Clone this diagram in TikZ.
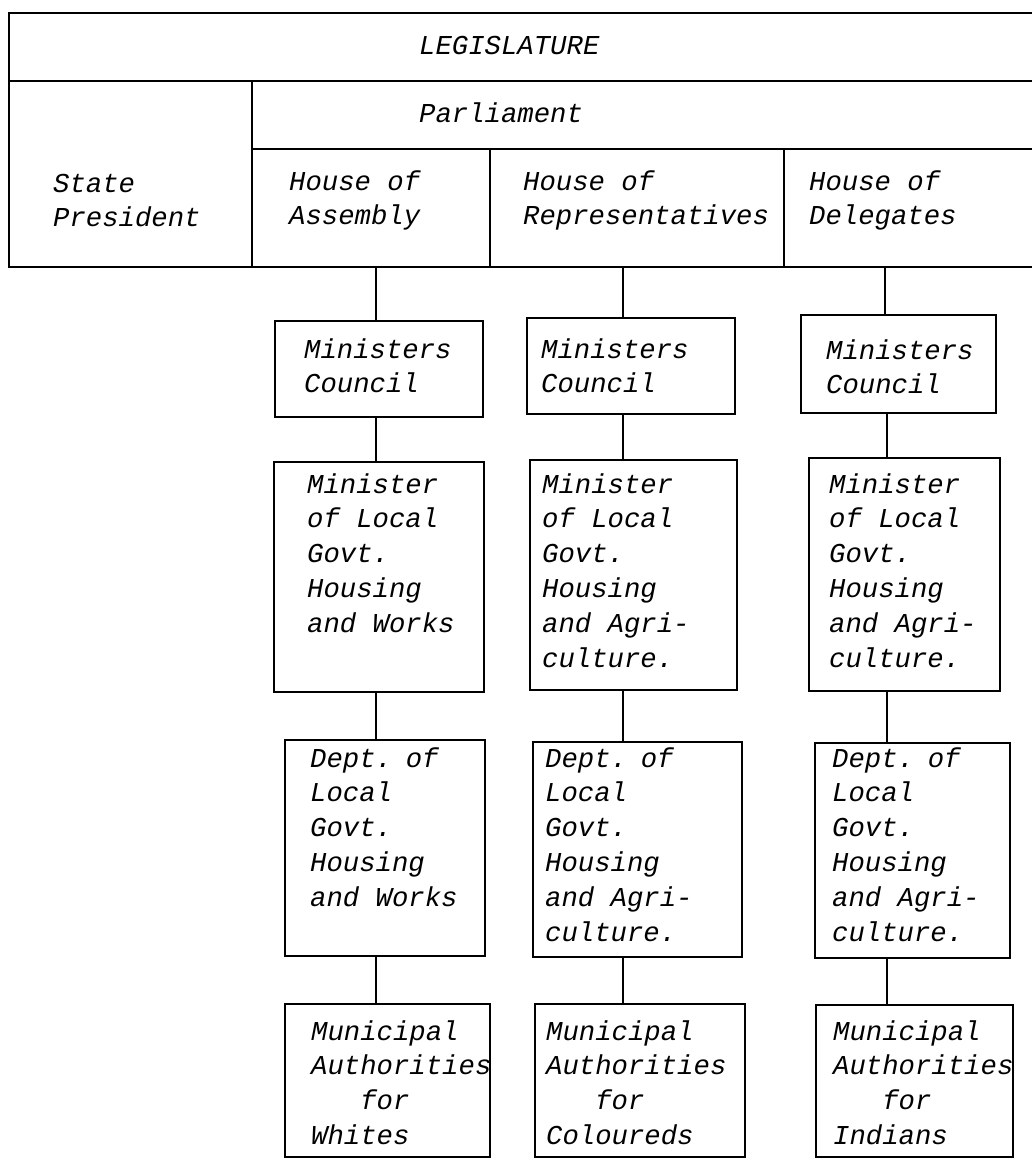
\documentclass[tikz,border=0pt]{standalone}
\usepackage{fontspec}
\newfontfamily\typewriter{Liberation Mono}[WordSpace={1,0,0}]
% framed box from its top-left corner (x1,y1) to its bottom-right corner (x2,y2)
\newcommand{\orgbox}[5]{%
  \node[box, minimum width={#4-#2}, minimum height={#5-#3}] (#1) at (#2,#3) {};}
\begin{document}
\begin{tikzpicture}[x=1pt, y=-1pt,
  rule/.style={line width=2.4pt, line cap=rect},
  box/.style={draw, line width=2.4pt, anchor=north west, inner sep=0pt, outer sep=0pt},
  link/.style={line width=2pt},
  txt/.style={anchor=base west, inner sep=0pt, text width=260pt, align=left,
    font=\typewriter\itshape\fontsize{27.3}{34.8}\selectfont,
    execute at begin node={\spaceskip=16.38pt\relax}}]
\useasboundingbox (0,0) rectangle (1032,1160);

% ---- legislature table ----
\draw[rule] (1040,13) -- (9,13) -- (9,267) -- (1040,267);
\draw[rule] (9,81) -- (1040,81);
\draw[rule] (252,81) -- (252,267);
\draw[rule] (252,149) -- (1040,149);
\draw[rule] (490,149) -- (490,267);
\draw[rule] (784,149) -- (784,267);

\node[txt] (legis) at (419,54) {LEGISLATURE};
\node[txt] (parl) at (419,122) {Parliament};
\node[txt] (pres) at (53,192) {State\\President};
\node[txt] (hA) at (289,190) {House of\\Assembly};
\node[txt] (hR) at (523,190) {House of\\Representatives};
\node[txt] (hD) at (809,190) {House of\\Delegates};

% column axes and the feet of the three chains on the table
\coordinate (k1) at (376,0);
\coordinate (k2) at (623,0);
\coordinate (k3) at (887,0);
\coordinate (f1) at (376,267);
\coordinate (f2) at (623,267);
\coordinate (f3) at (885,267);

% ---- ministers councils ----
\orgbox{mc1}{275}{321}{483}{417}
\orgbox{mc2}{527}{318}{735}{414}
\orgbox{mc3}{801}{315}{996}{413}
\node[txt] (tmc1) at (304,358) {Ministers\\Council};
\node[txt] (tmc2) at (541,358) {Ministers\\Council};
\node[txt] (tmc3) at (826,359) {Ministers\\Council};

% ---- ministers ----
\orgbox{mn1}{274}{462}{484}{692}
\orgbox{mn2}{530}{460}{737}{690}
\orgbox{mn3}{809}{458}{1000}{691}
\node[txt] (tmn1) at (307,493) {Minister\\of Local\\Govt.\\Housing\\and Works};
\node[txt] (tmn2) at (542,493) {Minister\\of Local\\Govt.\\Housing\\and Agri-\\culture.};
\node[txt] (tmn3) at (829,493) {Minister\\of Local\\Govt.\\Housing\\and Agri-\\culture.};

% ---- departments ----
\orgbox{dp1}{285}{740}{485}{956}
\orgbox{dp2}{533}{742}{742}{957}
\orgbox{dp3}{815}{743}{1010}{958}
\node[txt] (tdp1) at (310,767) {Dept. of\\Local\\Govt.\\Housing\\and Works};
\node[txt] (tdp2) at (545,767) {Dept. of\\Local\\Govt.\\Housing\\and Agri-\\culture.};
\node[txt] (tdp3) at (832,767) {Dept. of\\Local\\Govt.\\Housing\\and Agri-\\culture.};

% ---- municipal authorities ----
\orgbox{mu1}{285}{1004}{490}{1157}
\orgbox{mu2}{535}{1004}{745}{1157}
\orgbox{mu3}{816}{1005}{1013}{1157}
\node[txt] (tmu1) at (311,1040) {Municipal\\Authorities\\\phantom{Aut}for\\Whites};
\node[txt] (tmu2) at (546,1040) {Municipal\\Authorities\\\phantom{Aut}for\\Coloureds};
\node[txt] (tmu3) at (833,1040) {Municipal\\Authorities\\\phantom{Aut}for\\Indians};

% ---- connectors ----
\draw[link] (f1) -- (f1 |- mc1.north);
\draw[link] (f2) -- (f2 |- mc2.north);
\draw[link] (f3) -- (f3 |- mc3.north);
\draw[link] (mc1.south -| k1) -- (mn1.north -| k1);
\draw[link] (mc2.south -| k2) -- (mn2.north -| k2);
\draw[link] (mc3.south -| k3) -- (mn3.north -| k3);
\draw[link] (mn1.south -| k1) -- (dp1.north -| k1);
\draw[link] (mn2.south -| k2) -- (dp2.north -| k2);
\draw[link] (mn3.south -| k3) -- (dp3.north -| k3);
\draw[link] (dp1.south -| k1) -- (mu1.north -| k1);
\draw[link] (dp2.south -| k2) -- (mu2.north -| k2);
\draw[link] (dp3.south -| k3) -- (mu3.north -| k3);
\end{tikzpicture}
\end{document}
